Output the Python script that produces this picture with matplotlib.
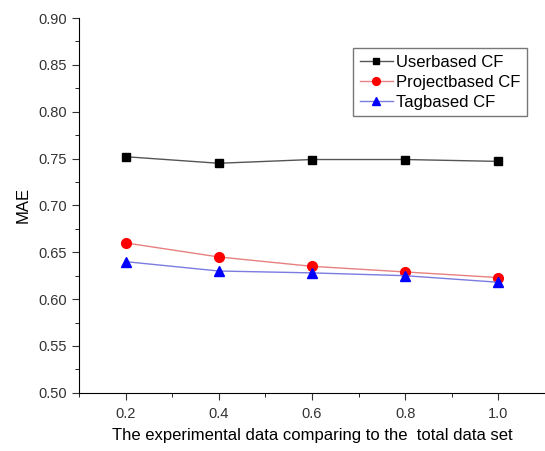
import matplotlib
matplotlib.use("Agg")
import matplotlib.pyplot as plt
from matplotlib.ticker import MultipleLocator

plt.rcParams['font.family'] = ['Liberation Sans', 'DejaVu Sans']

x = [0.2, 0.4, 0.6, 0.8, 1.0]
user_cf = [0.752, 0.745, 0.749, 0.749, 0.747]
project_cf = [0.660, 0.645, 0.635, 0.629, 0.623]
tag_cf = [0.640, 0.630, 0.628, 0.625, 0.618]

fig = plt.figure(figsize=(5.45, 4.51), dpi=100)
ax = fig.add_axes([0.145, 0.129, 0.855, 0.831])

ax.plot(x, user_cf, color='#555555', lw=1, marker='s', ms=6,
        mfc='black', mec='black', label='Userbased CF')
ax.plot(x, project_cf, color='#e88080', lw=1, marker='o', ms=7,
        mfc='red', mec='red', label='Projectbased CF')
ax.plot(x, tag_cf, color='#7b7be0', lw=1, marker='^', ms=7,
        mfc='blue', mec='blue', label='Tagbased CF')

ax.set_xlim(0.1, 1.1)
ax.set_ylim(0.50, 0.90)
ax.set_xticks(x)
ax.set_xticklabels(['0.2', '0.4', '0.6', '0.8', '1.0'])
ax.xaxis.set_minor_locator(MultipleLocator(0.1))
ax.yaxis.set_major_locator(MultipleLocator(0.05))
ax.yaxis.set_minor_locator(MultipleLocator(0.025))
ax.yaxis.set_major_formatter(plt.FormatStrFormatter('%.2f'))
ax.tick_params(which='major', direction='out', length=5, labelsize=10.5, colors='#333333')
ax.tick_params(which='minor', direction='out', length=3)
ax.tick_params(axis='x', pad=5)

ax.spines['top'].set_visible(False)
ax.spines['right'].set_visible(False)

ax.set_ylabel('MAE', fontsize=12, labelpad=6)
ax.set_xlabel('The experimental data comparing to the  total data set', fontsize=12, labelpad=5)

leg = ax.legend(loc='upper right', bbox_to_anchor=(0.962, 0.92), fontsize=12,
                frameon=True, fancybox=False, edgecolor='#555555',
                borderaxespad=0, handlelength=2.0, handletextpad=0.2,
                labelspacing=0.3, borderpad=0.4, markerscale=0.8)
leg.get_frame().set_linewidth(1)

fig.savefig('out.png', dpi=100)
